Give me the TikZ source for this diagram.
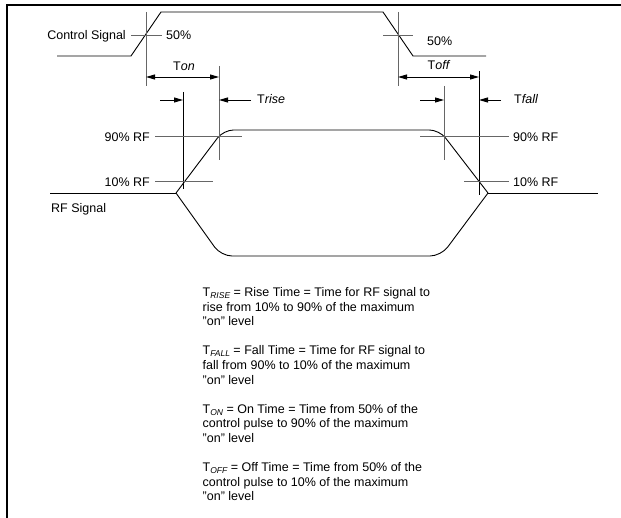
\documentclass[tikz,border=0pt]{standalone}
\usepackage{fontspec}
\setmainfont{Liberation Sans}
\usetikzlibrary{arrows.meta}
\begin{document}
\begin{tikzpicture}[x=1pt,y=-1pt,
  sig/.style={black,line width=0.9pt,line join=miter},
  tick/.style={black!60,line width=0.9pt},
  mark10/.style={black,line width=0.9pt},
  dimarrow/.style={black,line width=0.9pt,-{Triangle[length=9pt,width=5pt]}},
  dimboth/.style={black,line width=0.9pt,{Triangle[length=9pt,width=5pt]}-{Triangle[length=9pt,width=5pt]}},
  lbl/.style={font=\fontsize{12.5}{14}\selectfont,inner sep=0pt},
  body/.style={font=\fontsize{12.5}{14.6}\selectfont,inner sep=0pt,anchor=base west},
  frameline/.style={line width=2.5pt,line cap=rect}]
\useasboundingbox (0,0) rectangle (621,518);
\newcommand{\tsub}[1]{T\raisebox{-0.28ex}{\fontsize{8.5}{8.5}\selectfont\itshape #1}}

% frame (top and left edges only)
\coordinate (fbl) at (7,518);
\coordinate (ftl) at (7,5);
\coordinate (ftr) at (621,5);
\draw[frameline] (fbl) -- (ftl) -- (ftr);

% control signal
\coordinate (c0) at (57,56);
\coordinate (c1) at (131,56);
\coordinate (c2) at (161,12);
\coordinate (c3) at (383,12);
\coordinate (c4) at (413,56);
\coordinate (c5) at (486,56);
\draw[sig] (c0) -- (c1) -- (c2) -- (c3) -- (c4) -- (c5);

% RF signal
\coordinate (r0) at (50,193);
\coordinate (r1) at (176,193);
\coordinate (rt1) at (223.5,130);
\coordinate (rt2) at (439.4,130);
\coordinate (rb1) at (221,256);
\coordinate (rb2) at (441,256);
\coordinate (r2) at (488,193);
\coordinate (r3) at (598,193);
\draw[sig] (r0) -- (r1);
\draw[sig] (r2) -- (r3);
\draw[sig,rounded corners=10pt] (r1) -- (rt1) -- (rt2) -- (r2);
\draw[sig,rounded corners=11pt] (r1) -- (rb1) -- (rb2) -- (r2);

% 50% markers
\coordinate (v50La) at (146,12); \coordinate (v50Lb) at (146,86);
\coordinate (h50La) at (131,35); \coordinate (h50Lb) at (162,35);
\coordinate (v50Ra) at (398,12); \coordinate (v50Rb) at (398,86);
\coordinate (h50Ra) at (383,35); \coordinate (h50Rb) at (413,35);
\draw[tick] (v50La) -- (v50Lb);
\draw[tick] (h50La) -- (h50Lb);
\draw[tick] (v50Ra) -- (v50Rb);
\draw[tick] (h50Ra) -- (h50Rb);

% 90% / 10% vertical markers
\coordinate (v90La) at (219,66);  \coordinate (v90Lb) at (219,160);
\coordinate (v10La) at (183,92);  \coordinate (v10Lb) at (183,189);
\coordinate (v90Ra) at (444,86);  \coordinate (v90Rb) at (444,160);
\coordinate (v10Ra) at (479,71);  \coordinate (v10Rb) at (479,195);
\draw[tick] (v90La) -- (v90Lb);
\draw[mark10] (v10La) -- (v10Lb);
\draw[tick] (v90Ra) -- (v90Rb);
\draw[mark10] (v10Ra) -- (v10Rb);

% horizontal level lines
\coordinate (h90La) at (155,136); \coordinate (h90Lb) at (242,136);
\coordinate (h10La) at (155,181); \coordinate (h10Lb) at (213,181);
\coordinate (h90Ra) at (420,136); \coordinate (h90Rb) at (509,136);
\coordinate (h10Ra) at (464,181); \coordinate (h10Rb) at (509,181);
\draw[tick] (h90La) -- (h90Lb);
\draw[tick] (h10La) -- (h10Lb);
\draw[tick] (h90Ra) -- (h90Rb);
\draw[tick] (h10Ra) -- (h10Rb);

% dimension arrows
\coordinate (tonA) at (146,77); \coordinate (tonB) at (219,77);
\coordinate (toffA) at (398,77); \coordinate (toffB) at (479,77);
\coordinate (triseA) at (251,100); \coordinate (triseB) at (219,100);
\coordinate (tfallA) at (501,100); \coordinate (tfallB) at (479,100);
\coordinate (lmA) at (160,100); \coordinate (lmB) at (183,100);
\coordinate (rmA) at (420,100); \coordinate (rmB) at (444,100);
\draw[dimboth] (tonA) -- (tonB);
\draw[dimboth] (toffA) -- (toffB);
\draw[dimarrow] (triseA) -- (triseB);
\draw[dimarrow] (tfallA) -- (tfallB);
\draw[dimarrow] (lmA) -- (lmB);
\draw[dimarrow] (rmA) -- (rmB);

% labels
\node[lbl,anchor=base east] (lcs) at (126,40) {Control Signal};
\node[lbl,anchor=base west] (l50a) at (166,40) {50\%};
\node[lbl,anchor=base west] (l50b) at (427,45.5) {50\%};
\node[lbl,anchor=base] (lton) at (184,71) {T\textit{on}};
\node[lbl,anchor=base] (ltoff) at (439,70) {T\textit{off}};
\node[lbl,anchor=base west] (ltrise) at (257,104) {T\textit{rise}};
\node[lbl,anchor=base west] (ltfall) at (514,104) {T\textit{fall}};
\node[lbl,anchor=base east] (l90a) at (150,141.5) {90\% RF};
\node[lbl,anchor=base east] (l10a) at (150,186.5) {10\% RF};
\node[lbl,anchor=base west] (l90b) at (513,141.5) {90\% RF};
\node[lbl,anchor=base west] (l10b) at (513,186.5) {10\% RF};
\node[lbl,anchor=base west] (lrf) at (51,213) {RF Signal};

% definitions
\node[body] (d1a) at (202.5,296.5) {\tsub{RISE} = Rise Time = Time for RF signal to};
\node[body] (d1b) at (202.5,311.1) {rise from 10\% to 90\% of the maximum};
\node[body] (d1c) at (202.5,325.7) {"on" level};
\node[body] (d2a) at (202.5,354.9) {\tsub{FALL} = Fall Time = Time for RF signal to};
\node[body] (d2b) at (202.5,369.5) {fall from 90\% to 10\% of the maximum};
\node[body] (d2c) at (202.5,384.1) {"on" level};
\node[body] (d3a) at (202.5,413.3) {\tsub{ON} = On Time = Time from 50\% of the};
\node[body] (d3b) at (202.5,427.9) {control pulse to 90\% of the maximum};
\node[body] (d3c) at (202.5,442.5) {"on" level};
\node[body] (d4a) at (202.5,471.7) {\tsub{OFF} = Off Time = Time from 50\% of the};
\node[body] (d4b) at (202.5,486.3) {control pulse to 10\% of the maximum};
\node[body] (d4c) at (202.5,500.9) {"on" level};
\end{tikzpicture}
\end{document}
